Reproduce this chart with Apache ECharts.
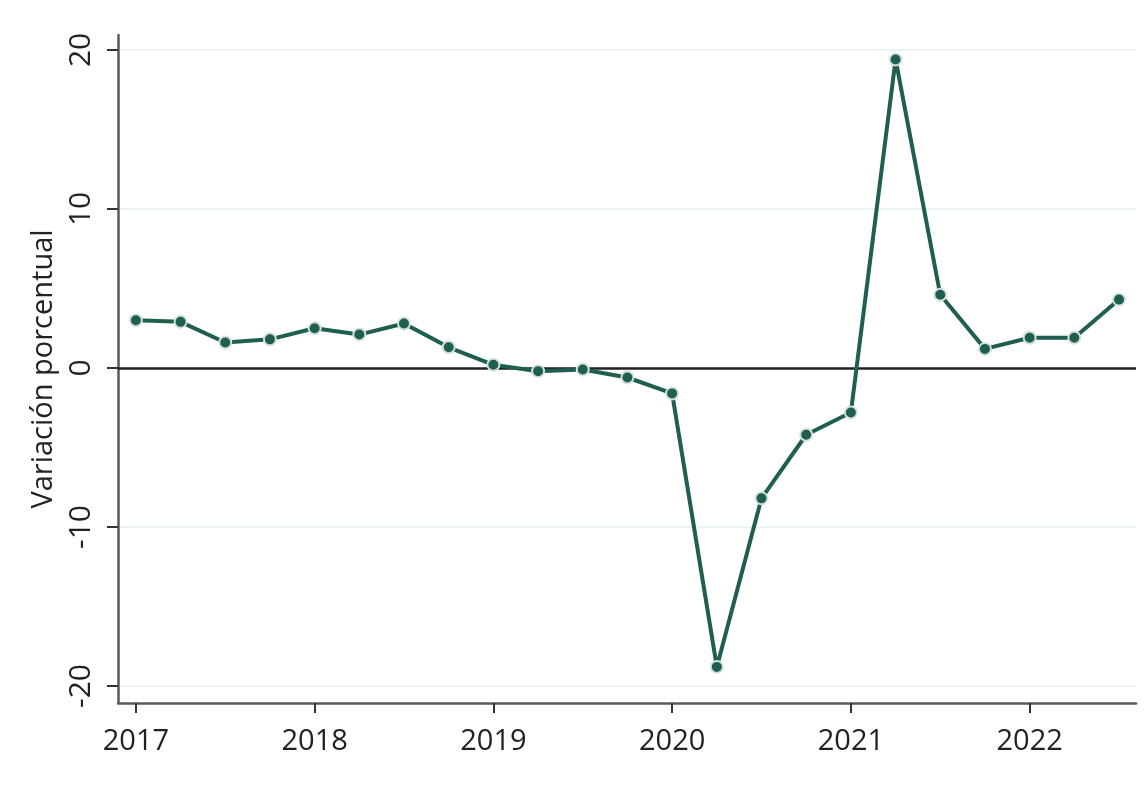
<!DOCTYPE html>
<html>
<head>
<meta charset="utf-8">
<script src="https://cdn.jsdelivr.net/npm/echarts@6/dist/echarts.min.js"></script>
<style>
html,body{margin:0;padding:0;background:#ffffff;}
#c{width:1147px;height:812px;}
</style>
</head>
<body>
<div id="c"></div>
<script>
// Quarter positions (year + fraction), 2017T1 .. 2022T3
const periods = [2017, 2017.25, 2017.5, 2017.75,
                 2018, 2018.25, 2018.5, 2018.75,
                 2019, 2019.25, 2019.5, 2019.75,
                 2020, 2020.25, 2020.5, 2020.75,
                 2021, 2021.25, 2021.5, 2021.75,
                 2022, 2022.25, 2022.5];
const values = [3.0, 2.9, 1.6, 1.8,
                2.5, 2.1, 2.8, 1.3,
                0.2, -0.2, -0.1, -0.6,
                -1.6, -18.8, -8.2, -4.2,
                -2.8, 19.4, 4.6, 1.2,
                1.9, 1.9, 4.3];
const xTicks = [2017, 2018, 2019, 2020, 2021, 2022];
const yTicks = [-20, -10, 0, 10, 20];
const yTitle = 'Variación porcentual';

const font = '"Open Sans", Lato, sans-serif';
const chart = echarts.init(document.getElementById('c'));
chart.setOption({
  animation: false,
  backgroundColor: '#ffffff',
  grid: {left: 118, right: 11, top: 35, bottom: 109},
  xAxis: {
    type: 'value', min: 2016.9, max: 2022.595,
    axisLine: {show: true, onZero: false, lineStyle: {color: '#5a5a5a', width: 2.5}},
    axisTick: {show: true, customValues: xTicks, length: 10, lineStyle: {color: '#333', width: 2}},
    axisLabel: {customValues: xTicks, margin: 24, color: '#222', fontFamily: font, fontSize: 29,
                formatter: v => String(v)},
    splitLine: {show: false}
  },
  yAxis: {
    type: 'value', min: -21.07, max: 20.94,
    name: yTitle, nameLocation: 'middle', nameRotate: 90, nameGap: 53,
    nameTextStyle: {color: '#222', fontFamily: font, fontSize: 29},
    axisLine: {show: true, onZero: false, lineStyle: {color: '#5a5a5a', width: 2.5}},
    axisTick: {show: true, customValues: yTicks, length: 11, lineStyle: {color: '#333', width: 2}},
    axisLabel: {customValues: yTicks, rotate: 90, margin: 22, color: '#222', fontFamily: font, fontSize: 30,
                formatter: v => String(v)},
    splitLine: {show: true, lineStyle: {color: '#e6f0ef', width: 1.5}}
  },
  series: [{
    type: 'line',
    data: periods.map((p, i) => [p, values[i]]),
    symbol: 'circle', symbolSize: 12,
    lineStyle: {color: '#1e5f51', width: 4},
    itemStyle: {color: '#1e5f51', borderColor: '#d5dfdc', borderWidth: 2},
    z: 3,
    markLine: {
      silent: true, symbol: 'none', label: {show: false},
      lineStyle: {color: '#222', width: 2.5, type: 'solid'},
      data: [{yAxis: 0}],
      z: 2
    }
  }]
});
</script>
</body>
</html>
